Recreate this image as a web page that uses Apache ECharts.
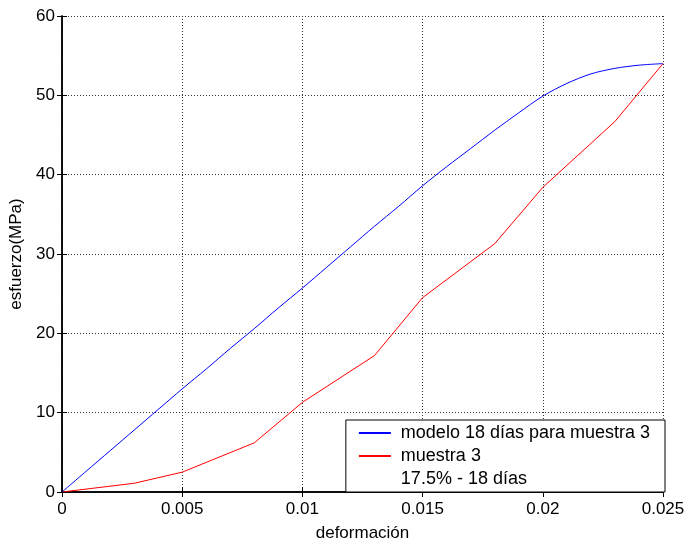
<!DOCTYPE html>
<html>
<head>
<meta charset="utf-8">
<script src="https://cdn.jsdelivr.net/npm/echarts@6/dist/echarts.min.js"></script>
<style>
  html, body { margin: 0; padding: 0; background: #fff; }
  #chart { width: 690px; height: 547px; }
</style>
</head>
<body>
<div id="chart"></div>
<script>
// modelo 18 dias (curva)
const modeloX = [0, 0.001, 0.002, 0.003, 0.004, 0.005, 0.006, 0.007, 0.008, 0.009, 0.010,
  0.011, 0.012, 0.013, 0.014, 0.015, 0.016, 0.017, 0.018, 0.019, 0.020,
  0.021, 0.022, 0.023, 0.024, 0.025];
const modeloY = [0, 2.6, 5.2, 7.8, 10.4, 13.0, 15.5, 18.1, 20.6, 23.2, 25.7,
  28.3, 30.9, 33.5, 36.0, 38.6, 41.0, 43.3, 45.6, 47.8, 49.9,
  51.5, 52.7, 53.4, 53.8, 54.0];

// muestra 3 (ensayo)
const muestraX = [0, 0.003, 0.005, 0.008, 0.010, 0.013, 0.015, 0.018, 0.020, 0.023, 0.025];
const muestraY = [0, 1.1, 2.5, 6.2, 11.3, 17.2, 24.5, 31.3, 38.4, 46.7, 54.0];

const xTickLabels = ['0', '0.005', '0.01', '0.015', '0.02', '0.025'];
const yTickLabels = ['0', '10', '20', '30', '40', '50', '60'];

const nombres = ['modelo 18 días para muestra 3', 'muestra 3', '17.5% - 18 días'];

const font = "'Liberation Sans', Arial, sans-serif";
const myChart = echarts.init(document.getElementById('chart'));

const pares = (xs, ys) => xs.map((x, i) => [x, ys[i]]);

const option = {
  animation: false,
  backgroundColor: '#fff',
  textStyle: { fontFamily: font, color: '#000' },
  grid: { left: 62, right: 27, top: 16, bottom: 55 },
  legend: {
    orient: 'vertical',
    right: 25,
    bottom: 55,
    backgroundColor: '#fff',
    borderColor: '#000',
    borderWidth: 1,
    borderRadius: 0,
    padding: [4, 15, 4, 12],
    itemGap: 5,
    itemWidth: 32,
    itemHeight: 12,
    itemStyle: { opacity: 0 },
    textStyle: { fontSize: 18, fontFamily: font, color: '#000', padding: [0, 0, 0, 5] },
    data: [
      { name: nombres[0] },
      { name: nombres[1] },
      { name: nombres[2], icon: 'none' },
    ],
  },
  xAxis: [
    {
      type: 'value',
      min: 0,
      max: 0.025,
      interval: 0.005,
      name: 'deformación',
      nameLocation: 'middle',
      nameGap: 33,
      nameTextStyle: { fontSize: 17, color: '#000' },
      axisLine: { lineStyle: { color: '#000', width: 1.5 } },
      axisTick: { inside: true, length: 5, lineStyle: { color: '#000' } },
      axisLabel: {
        fontSize: 17,
        color: '#000',
        margin: 9,
        formatter: v => xTickLabels[Math.round(v / 0.005)],
      },
      splitLine: { show: true, lineStyle: { color: '#333', type: [1, 2], width: 1 } },
    },
    {
      type: 'value',
      position: 'top',
      min: 0,
      max: 0.025,
      interval: 0.005,
      axisLine: { show: true, lineStyle: { color: '#000', width: 1.5 } },
      axisTick: { show: true, inside: true, length: 5, lineStyle: { color: '#000' } },
      axisLabel: { show: false },
      splitLine: { show: false },
    },
  ],
  yAxis: [
    {
      type: 'value',
      min: 0,
      max: 60,
      interval: 10,
      name: 'esfuerzo(MPa)',
      nameLocation: 'middle',
      nameGap: 31,
      nameTextStyle: { fontSize: 17, color: '#000' },
      axisLine: { show: true, lineStyle: { color: '#000', width: 1.5 } },
      axisTick: { show: true, inside: true, length: 5, lineStyle: { color: '#000' } },
      axisLabel: {
        fontSize: 17,
        color: '#000',
        margin: 7,
        formatter: v => yTickLabels[Math.round(v / 10)],
      },
      splitLine: { show: true, lineStyle: { color: '#333', type: [1, 2], width: 1 } },
    },
    {
      type: 'value',
      position: 'right',
      min: 0,
      max: 60,
      interval: 10,
      axisLine: { show: true, lineStyle: { color: '#000', width: 1.5 } },
      axisTick: { show: true, inside: true, length: 5, lineStyle: { color: '#000' } },
      axisLabel: { show: false },
      splitLine: { show: false },
    },
  ],
  series: [
    {
      name: nombres[0],
      type: 'line',
      symbol: 'none',
      smooth: 0.3,
      color: '#0000ff',
      lineStyle: { color: '#0000ff', width: 1 },
      data: pares(modeloX, modeloY),
      z: 3,
    },
    {
      name: nombres[1],
      type: 'line',
      symbol: 'none',
      color: '#ff0000',
      lineStyle: { color: '#ff0000', width: 1 },
      data: pares(muestraX, muestraY),
      z: 2,
    },
    {
      name: nombres[2],
      type: 'line',
      symbol: 'none',
      color: '#ffffff',
      lineStyle: { width: 0 },
      data: [],
    },
  ],
};
myChart.setOption(option);
</script>
</body>
</html>
